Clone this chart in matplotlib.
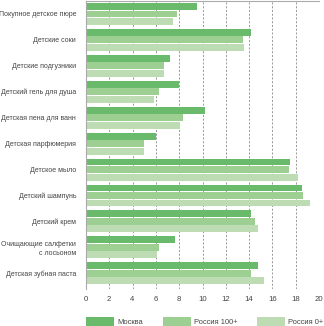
import matplotlib.pyplot as plt
import numpy as np

plt.rcParams['font.family'] = ['Liberation Sans', 'DejaVu Sans']

# Категории (сверху вниз)
categories = [
    "Покупное детское пюре",
    "Детские соки",
    "Детские подгузники",
    "Детский гель для душа",
    "Детская пена для ванн",
    "Детская парфюмерия",
    "Детское мыло",
    "Детский шампунь",
    "Детский крем",
    "Очищающие салфетки\nс лосьоном",
    "Детская зубная паста",
]

moskva = [9.5, 14.2, 7.2, 8.0, 10.2, 6.0, 17.5, 18.5, 14.2, 7.6, 14.8]
rossiya_100 = [7.8, 13.5, 6.7, 6.3, 8.3, 5.0, 17.4, 18.6, 14.5, 6.3, 14.2]
rossiya_0 = [7.5, 13.6, 6.7, 5.8, 8.1, 5.0, 18.2, 19.2, 14.8, 6.1, 15.3]

series = [("Москва", moskva, "#69bb6b"),
          ("Россия 100+", rossiya_100, "#9dcf93"),
          ("Россия 0+", rossiya_0, "#bddcb4")]

xticks = list(range(0, 21, 2))

fig = plt.figure(figsize=(3.24, 3.26), dpi=100)
ax = fig.add_axes([0.265, 0.114, 0.72, 0.883])

y = np.arange(len(categories)) + 0.5
step = 0.29
h = 0.265
bars = []
for k, (name, vals, col) in enumerate(series):
    b = ax.barh(y + (k - 1) * step, vals, height=h, color=col, label=name, zorder=2)
    bars.append(b)

ax.set_ylim(11.1, 0)
ax.set_xlim(0, 20)
ax.set_xticks(xticks)
ax.set_xticklabels([str(t) for t in xticks], fontsize=5.6, color="#444444")
ax.set_yticks(y)
ax.set_yticklabels(categories, fontsize=5.0, color="#444444", linespacing=1.4)
ax.tick_params(axis='x', length=0, pad=5)
ax.tick_params(axis='y', length=0, pad=7)

for t in xticks[1:]:
    ax.axvline(t, color="#8a8a8a", lw=0.6, ls=(0, (2.5, 2)), zorder=1)

for s in ['bottom', 'right']:
    ax.spines[s].set_visible(False)
ax.spines['left'].set_color("#aaaaaa")
ax.spines['left'].set_linewidth(0.8)
ax.spines['top'].set_color("#aaaaaa")
ax.spines['top'].set_linewidth(0.8)

# легенда: три отдельных элемента внизу
leg_x = [86 / 324, 163 / 324, 257 / 324]
for b, (name, _, _), lx in zip(bars, series, leg_x):
    lg = fig.legend([b], [name], loc='lower left', bbox_to_anchor=(lx, 0.0),
                    fontsize=5.4, frameon=False, handlelength=3.7, handleheight=1.35,
                    handletextpad=0.45, borderpad=0, borderaxespad=0,
                    labelcolor="#444444")

fig.savefig("out.png", dpi=100)
